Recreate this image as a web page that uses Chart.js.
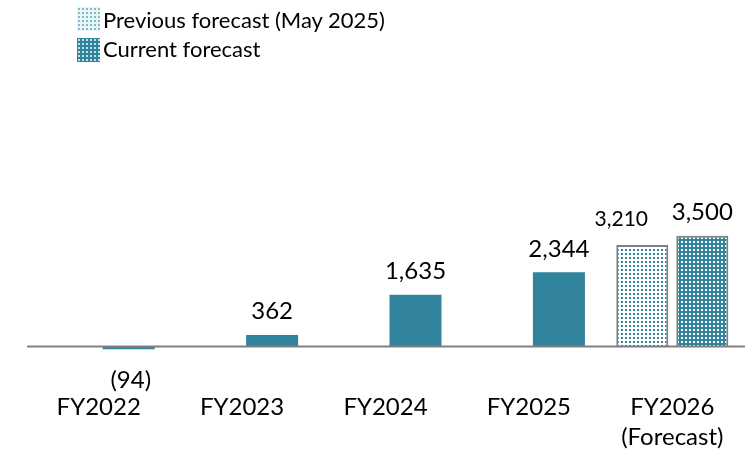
<!DOCTYPE html>
<html>
<head>
<meta charset="utf-8">
<script src="https://cdn.jsdelivr.net/npm/chart.js@4.4.1/dist/chart.umd.min.js"></script>
<style>
  body { margin: 0; background: #fff; }
  #wrap { position: relative; width: 756px; height: 457px; }
  .legend-item { position: absolute; left: 77px; height: 24px; }
  .legend-item canvas { position: absolute; left: 0; top: 0; }
  .legend-item span {
    position: absolute; left: 26px; white-space: nowrap;
    font-family: Lato, sans-serif; font-size: 22px; line-height: 24px; color: #000;
  }
</style>
</head>
<body>
<div id="wrap">
  <canvas id="chart" width="756" height="457"></canvas>
  <div class="legend-item" style="top:7px"><canvas id="sw0" width="23" height="24"></canvas><span id="lg0" style="top:1px"></span></div>
  <div class="legend-item" style="top:38px"><canvas id="sw1" width="23" height="24"></canvas><span id="lg1" style="top:-1px"></span></div>
</div>
<script>
const categories = ['FY2022', 'FY2023', 'FY2024', 'FY2025', ['FY2026', '(Forecast)']];
const seriesNames = ['Previous forecast (May 2025)', 'Current forecast'];
const previousForecast = [null, null, null, null, 3210];
const currentForecast = [-94, 362, 1635, 2344, 3500];

const teal = '#31849b';
const edge = '#7f7f7f';

// small dotted tiles like the Excel pattern fills
function dotPattern(bg, dot) {
   const c = document.createElement('canvas');
   c.width = 4;
   c.height = 4;
   const g = c.getContext('2d');
   g.fillStyle = bg;
   g.fillRect(0, 0, 4, 4);
   g.fillStyle = dot;
   g.fillRect(1, 1, 2, 2);
   return g.createPattern(c, 'repeat');
}

const prevFill = dotPattern('#ffffff', teal);
const currFill = dotPattern(teal, '#ffffff');

// legend swatches
[['sw0', 'lg0'], ['sw1', 'lg1']].forEach(function (s, i) {
   const g = document.getElementById(s[0]).getContext('2d');
   g.fillStyle = i === 0 ? dotPattern('#eaf4f7', '#7fbccc') : dotPattern(teal, '#bfe0e8');
   g.fillRect(0, 0, 23, 24);
   document.getElementById(s[1]).textContent = seriesNames[i];
});

const lastIdx = currentForecast.length - 1;
const currColors = currentForecast.map(function (v, i) { return i === lastIdx ? currFill : teal; });
const currBorders = currentForecast.map(function (v, i) { return i === lastIdx ? edge : teal; });
const currBorderW = currentForecast.map(function (v, i) { return i === lastIdx ? 2 : 0; });

// label look per dataset: font size, x shift, gap above bar
const labelLook = [
   { size: 21, dx: -21, gap: 19 },
   { size: 24, dx: 0, gap: 15.5 }
];

function fmt(v) {
   return v < 0 ? '(' + Math.abs(v).toLocaleString('en-US') + ')' : v.toLocaleString('en-US');
}

const barLabels = {
   id: 'barLabels',
   afterDatasetsDraw(chart) {
      const ctx = chart.ctx;
      const xs = chart.scales.x;
      const y0 = chart.scales.y.getPixelForValue(0);
      ctx.save();
      ctx.strokeStyle = '#808080';
      ctx.lineWidth = 2;
      ctx.beginPath();
      ctx.moveTo(xs.left, y0);
      ctx.lineTo(xs.right + 1, y0);
      ctx.stroke();

      ctx.fillStyle = '#000';
      ctx.textAlign = 'center';
      ctx.textBaseline = 'alphabetic';
      chart.data.datasets.forEach(function (ds, d) {
         const look = labelLook[d];
         ctx.font = look.size + 'px Lato';
         chart.getDatasetMeta(d).data.forEach(function (bar, i) {
            const v = ds.data[i];
            if (v == null) return;
            if (v < 0) {
               ctx.fillText(fmt(v), bar.x + 2, bar.y + 39);
            } else {
               ctx.fillText(fmt(v), bar.x + look.dx, bar.y - look.gap);
            }
         });
      });
      ctx.restore();
   }
};

Chart.defaults.font.family = 'Lato';
Chart.defaults.color = '#000';

new Chart(document.getElementById('chart'), {
   type: 'bar',
   data: {
      labels: categories,
      datasets: [{
         label: seriesNames[0],
         data: previousForecast,
         backgroundColor: prevFill,
         borderColor: edge,
         borderWidth: 2,
         categoryPercentage: 0.837,
         barPercentage: 0.867
      }, {
         label: seriesNames[1],
         data: currentForecast,
         backgroundColor: currColors,
         borderColor: currBorders,
         borderWidth: currBorderW,
         categoryPercentage: 0.837,
         barPercentage: 0.867
      }]
   },
   options: {
      responsive: false,
      animation: false,
      layout: { padding: { top: 220, left: 27, right: 12, bottom: -10 } },
      plugins: {
         legend: { display: false },
         tooltip: { enabled: false }
      },
      scales: {
         x: {
            grid: { display: false, drawTicks: false },
            border: { display: false },
            ticks: {
               font: { size: 24, lineHeight: 1.25 },
               padding: 14.5,
               maxRotation: 0,
               autoSkip: false
            }
         },
         y: {
            display: false,
            min: -1000,
            max: 4000
         }
      }
   },
   plugins: [barLabels]
});
</script>
</body>
</html>
